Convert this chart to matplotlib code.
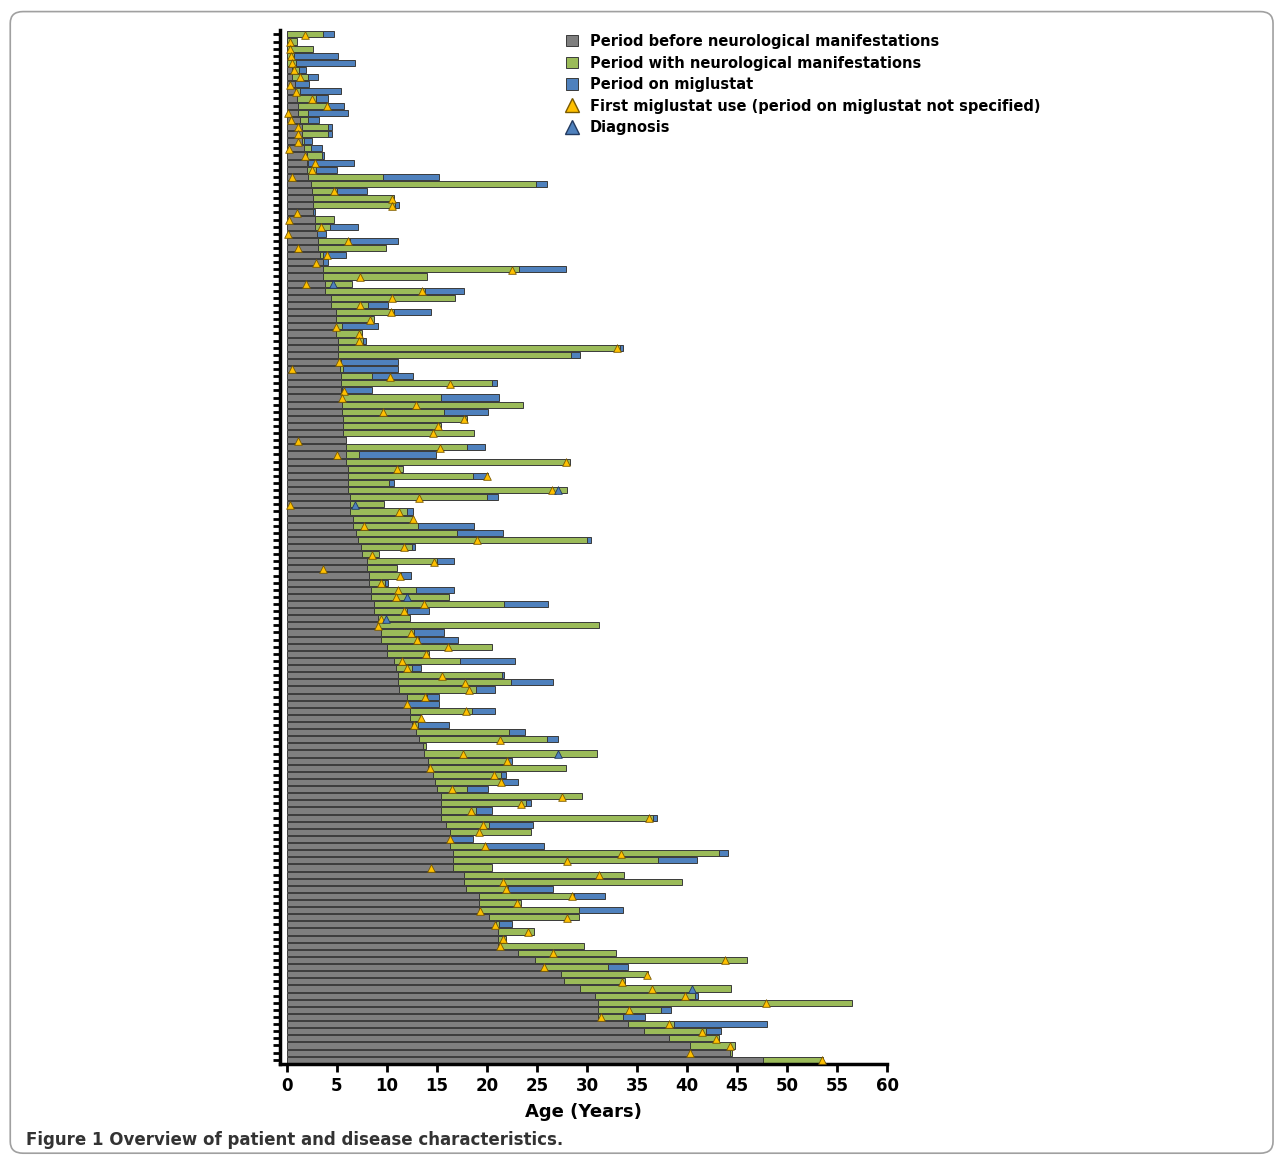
import numpy as np
import matplotlib
matplotlib.use('Agg')
import matplotlib.pyplot as plt
from matplotlib.patches import FancyBboxPatch
from matplotlib.lines import Line2D
from matplotlib.patches import Patch

nan = np.nan
# per patient: end of period before neuro signs, end of neuro period, end of miglustat period
pre_end = [0, 0, 0, 0, 0, 0.5, 0.5, 0.8, 0.8, 1.0, 1.1, 1.1, 1.3, 1.5, 1.5, 1.5, 1.7, 2.0, 2.0, 2.0,
           2.1, 2.4, 2.5, 2.6, 2.6, 2.6, 2.8, 2.8, 3.0, 3.1, 3.1, 3.3, 3.6, 3.6, 3.6, 3.8, 3.8,
           4.4, 4.4, 4.9, 4.9, 4.9, 4.9, 5.1, 5.1, 5.1, 5.2, 5.3, 5.4, 5.4, 5.4, 5.5, 5.5, 5.5, 5.6, 5.6,
           5.6, 5.9, 5.9, 5.9, 5.9, 6.1, 6.1, 6.1, 6.1, 6.3, 6.3, 6.3, 6.6, 6.6, 6.9, 7.1, 7.4, 7.5,
           8.0, 8.0, 8.2, 8.2, 8.4, 8.4, 8.7, 8.7, 9.1, 9.1, 9.4, 9.4, 10.0, 10.0, 10.7, 10.9, 11.1, 11.1, 11.2,
           12.0, 12.0, 12.3, 12.3, 12.5, 12.9, 13.2, 13.6, 13.7, 14.1, 14.1, 14.6, 14.8, 15.0, 15.4, 15.4, 15.4, 15.4,
           15.9, 16.3, 16.3, 16.3, 16.6, 16.6, 16.6, 17.7, 17.7, 17.9, 19.2, 19.2, 19.2, 20.2, 20.9, 21.1, 21.1, 21.1, 23.1,
           24.8, 25.6, 27.4, 27.7, 29.3, 30.8, 31.1, 31.1, 31.1, 34.1, 35.7, 38.2, 40.3, 44.3, 47.6]
neuro_end = [3.6, 1.0, 2.6, 0.7, 0.9, 1.2, 2.1, 0.8, 1.3, 2.9, 4.1, 2.1, 2.1, 4.1, 4.1, 1.7, 2.4, 3.5, 2.1, 2.9,
             9.6, 24.9, 5.0, 10.7, 10.8, 2.6, 4.7, 4.3, 3.0, 6.3, 9.9, 3.6, 3.6, 23.2, 14.0, 6.5, 13.8,
             16.8, 8.1, 10.7, 8.7, 5.5, 7.5, 7.6, 33.3, 28.4, 5.4, 5.6, 8.5, 20.5, 5.5, 15.4, 23.6, 15.7, 18.0, 15.4,
             18.7, 5.9, 18.0, 7.2, 28.3, 11.6, 18.6, 10.2, 28.0, 20.0, 9.7, 12.0, 12.6, 13.1, 17.0, 30.0, 12.5, 9.2,
             15.0, 11.0, 11.4, 9.8, 12.9, 16.2, 21.7, 12.0, 12.3, 31.2, 12.7, 13.2, 20.5, 14.2, 17.3, 12.5, 21.5, 22.4, 18.9,
             14.0, 12.0, 18.5, 13.4, 13.1, 22.2, 26.0, 13.9, 31.0, 22.1, 27.9, 21.4, 21.5, 18.0, 29.5, 23.9, 18.9, 36.6,
             20.2, 24.4, 16.3, 19.9, 43.2, 37.1, 20.5, 33.7, 39.5, 22.1, 28.7, 23.4, 29.2, 29.2, 21.2, 24.7, 21.9, 29.7, 32.9,
             46.0, 32.1, 36.1, 33.8, 44.4, 40.8, 56.5, 37.4, 33.6, 38.7, 41.9, 43.2, 44.8, 44.5, 53.6]
mig_end = [4.7, nan, nan, 5.1, 6.8, 1.9, 3.1, 2.2, 5.4, 4.1, 5.7, 6.1, 3.2, 4.5, 4.5, 2.5, 3.5, 3.7, 6.7, 5.0,
           15.2, 26.0, 8.0, nan, 11.2, 2.8, nan, 7.1, 3.9, 11.1, nan, 5.9, 4.1, 27.9, nan, nan, 17.7,
           nan, 10.1, 14.4, nan, 9.1, nan, 7.9, 33.6, 29.3, 11.1, 11.1, 12.6, 21.0, 8.5, 21.2, nan, 20.1, nan, nan,
           nan, nan, 19.8, 14.9, nan, nan, 20.1, 10.7, nan, 21.1, nan, 12.6, nan, 18.7, 21.6, 30.4, 12.8, nan,
           16.7, nan, 12.4, 10.1, 16.7, nan, 26.1, 14.2, nan, nan, 15.7, 17.1, nan, nan, 22.8, 13.4, 21.7, 26.6, 20.8,
           15.2, 15.2, 20.8, nan, 16.2, 23.8, 27.1, nan, nan, 22.5, nan, 21.9, 23.1, 20.1, nan, 24.4, 20.5, 37.0,
           24.6, nan, 18.6, 25.7, 44.1, 41.0, nan, nan, nan, 26.6, 31.8, nan, 33.6, nan, 22.5, nan, nan, nan, nan,
           nan, 34.1, nan, nan, nan, 41.1, nan, 38.4, 35.8, 48.0, 43.4, nan, nan, nan, nan]
first_mig = [1.8, 0.3, 0.3, 0.4, 0.5, 0.7, 1.3, 0.3, 0.9, 2.5, 4.0, 0.1, 0.4, 1.1, 1.1, 1.1, 0.2, 1.8, 2.8, 2.5,
             0.5, nan, 4.7, 10.5, 10.5, 1.0, 0.2, 3.4, 0.1, 6.1, 1.1, 4.0, 2.9, 22.5, 7.3, 1.9, 13.5,
             10.5, 7.3, 10.4, 8.3, 4.9, 7.2, 7.2, 33.0, nan, 5.2, 0.5, 10.3, 16.3, 5.7, 5.5, 12.9, 9.6, 17.7, 15.1,
             14.6, 1.1, 15.3, 5.0, 27.9, 11.0, 20.0, nan, 26.5, 13.2, 0.3, 11.2, 12.6, 7.7, nan, 19.0, 11.7, 8.5,
             14.7, 3.6, 11.3, 9.4, 11.1, 10.9, 13.7, 11.7, 9.4, 9.1, 12.4, 13.0, 16.1, 13.9, 11.5, 12.0, 15.5, 17.8, 18.2,
             13.8, 12.0, 17.9, 13.4, 12.7, nan, 21.3, nan, 17.6, 22.0, 14.3, 20.7, 21.4, 16.5, 27.5, 23.4, 18.4, 36.2,
             19.6, 19.2, 16.3, 19.8, 33.4, 28.0, 14.4, 31.2, 21.6, 21.9, 28.5, 23.0, 19.3, 28.0, 20.8, 24.1, 21.6, 21.3, 26.6,
             43.8, 25.7, 36.0, 33.5, 36.5, 39.8, 47.9, 34.2, 31.4, 38.2, 41.5, 42.9, 44.3, 40.3, 53.5]
diag_rows = [35, 64, 66, 79, 82, 101, 134]
diag_age = [4.6, 27.1, 6.8, 12.0, 9.9, 27.1, 40.5]

GRAY, GREEN, BLUE, YELLOW = '#7f7f7f', '#9bbb59', '#4f81bd', '#ffc000'

pre = np.array(pre_end); neu = np.array(neuro_end); mig = np.array(mig_end)
y = np.arange(len(pre))

fig = plt.figure(figsize=(12.82, 11.59), dpi=100)
fig.patches.append(FancyBboxPatch((0.008, 0.005), 0.985, 0.985, boxstyle='round,pad=0,rounding_size=0.01',
                                  transform=fig.transFigure, fill=False, ec='#a0a0a0', lw=1.2))
ax = fig.add_axes([0.2184, 0.082, 0.4735, 0.892])
h = 0.86
ek = dict(edgecolor='#3a3a3a', linewidth=0.7)
ax.barh(y, pre, height=h, color=GRAY, **ek)
ax.barh(y, neu - pre, left=pre, height=h, color=GREEN, **ek)
m = ~np.isnan(mig)
ax.barh(y[m], mig[m] - neu[m], left=neu[m], height=h, color=BLUE, **ek)
fm = np.array(first_mig)
ok = ~np.isnan(fm)
ax.scatter(fm[ok], y[ok] + 0.05, marker='^', s=30, c=YELLOW, edgecolors='#7a5a00', linewidths=0.6, zorder=4)
ax.scatter(diag_age, np.array(diag_rows) + 0.05, marker='^', s=30, c=BLUE, edgecolors='#233a60', linewidths=0.6, zorder=4)

ax.set_xlim(-0.7, 60)
ax.set_ylim(len(pre) - 0.4, -0.6)
ax.set_yticks(y)
ax.set_yticklabels([])
ax.tick_params(axis='y', length=5, width=2, direction='out')
ax.set_xticks(np.arange(0, 61, 5))
ax.tick_params(axis='x', length=6, width=2, labelsize=12)
for lab in ax.get_xticklabels():
    lab.set_fontweight('bold')
for s in ['top', 'right']:
    ax.spines[s].set_visible(False)
ax.spines['left'].set_linewidth(2.5)
ax.spines['bottom'].set_linewidth(2.5)
ax.set_xlabel('Age (Years)', fontsize=13, fontweight='bold', labelpad=6)

handles = [Patch(facecolor=GRAY, **ek), Patch(facecolor=GREEN, **ek), Patch(facecolor=BLUE, **ek),
           Line2D([], [], marker='^', ls='', ms=10, mfc=YELLOW, mec='#7a5a00'),
           Line2D([], [], marker='^', ls='', ms=10, mfc=BLUE, mec='#233a60')]
labels = ['Period before neurological manifestations', 'Period with neurological manifestations',
          'Period on miglustat', 'First miglustat use (period on miglustat not specified)', 'Diagnosis']
ax.legend(handles, labels, loc='upper left', bbox_to_anchor=(0.45, 1.009), frameon=False,
          prop={'weight': 'bold', 'size': 10.5}, handlelength=0.8, handleheight=0.8,
          labelspacing=0.45, handletextpad=0.8)

fig.text(0.02, 0.0125, 'Figure 1 Overview of patient and disease characteristics.', fontsize=12,
         fontweight='bold', color='#333333')

fig.savefig('out.png', dpi=100)
